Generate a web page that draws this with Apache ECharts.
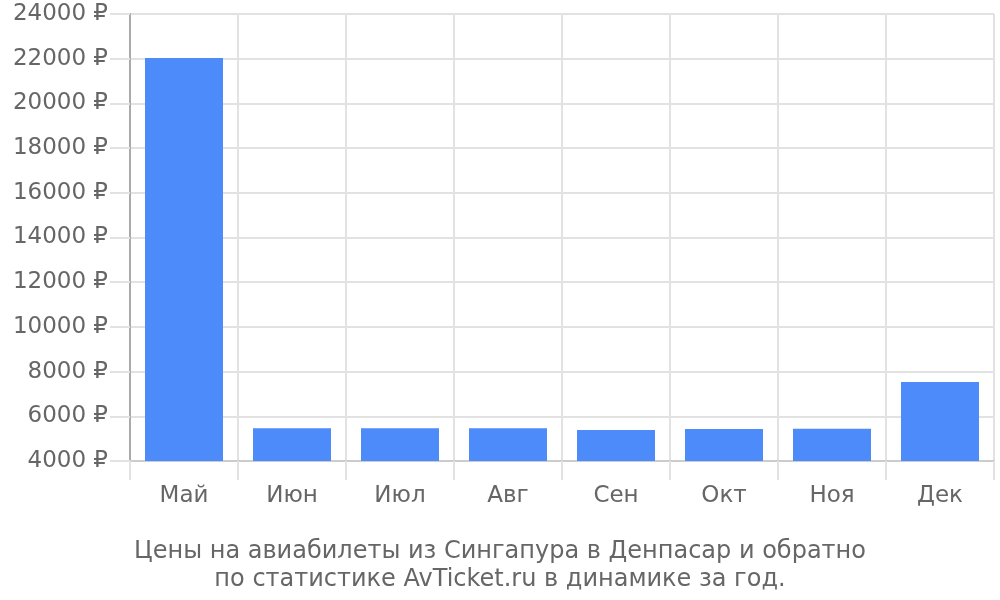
<!DOCTYPE html>
<html>
<head>
<meta charset="utf-8">
<script src="https://cdn.jsdelivr.net/npm/echarts@6/dist/echarts.min.js"></script>
<style>html,body{margin:0;padding:0;background:#fff}#c{width:1000px;height:600px}</style>
</head>
<body>
<div id="c"></div>
<script>
const categories = ["Май", "Июн", "Июл", "Авг", "Сен", "Окт", "Ноя", "Дек"];
const prices = [22030, 5460, 5460, 5460, 5390, 5430, 5440, 7540];
const titleLines = ["Цены на авиабилеты из Сингапура в Денпасар и обратно", "по статистике AvTicket.ru в динамике за год."];

const chart = echarts.init(document.getElementById('c'));
chart.setOption({
  animation: false,
  textStyle: { fontFamily: 'DejaVu Sans' },
  title: {
    text: titleLines.join('\n'),
    left: 'center',
    top: 533,
    textStyle: { fontSize: 24, fontWeight: 'normal', color: '#666', lineHeight: 28, fontFamily: 'DejaVu Sans' }
  },
  grid: { left: 130, right: 6, top: 14, bottom: 139 },
  xAxis: {
    type: 'category',
    data: categories,
    axisLine: { lineStyle: { color: '#ccc', width: 2 } },
    axisTick: { show: true, length: 19, lineStyle: { color: '#e2e2e2', width: 2 } },
    splitLine: { show: true, lineStyle: { color: '#e2e2e2', width: 2 } },
    axisLabel: { fontSize: 23, color: '#666', margin: 24, fontFamily: 'DejaVu Sans' }
  },
  yAxis: {
    type: 'value',
    min: 4000,
    max: 24000,
    interval: 2000,
    axisLine: { show: true, lineStyle: { color: '#aaa', width: 2 } },
    axisTick: { show: true, length: 20, lineStyle: { color: '#e2e2e2', width: 2 } },
    splitLine: { lineStyle: { color: '#e2e2e2', width: 2 } },
    axisLabel: { fontSize: 23, color: '#666', margin: 22, fontFamily: 'DejaVu Sans', formatter: function (v) { return v + ' ₽'; } }
  },
  series: [{
    type: 'bar',
    data: prices,
    barWidth: 78,
    itemStyle: { color: '#4d8afa' }
  }]
});
</script>
</body>
</html>
